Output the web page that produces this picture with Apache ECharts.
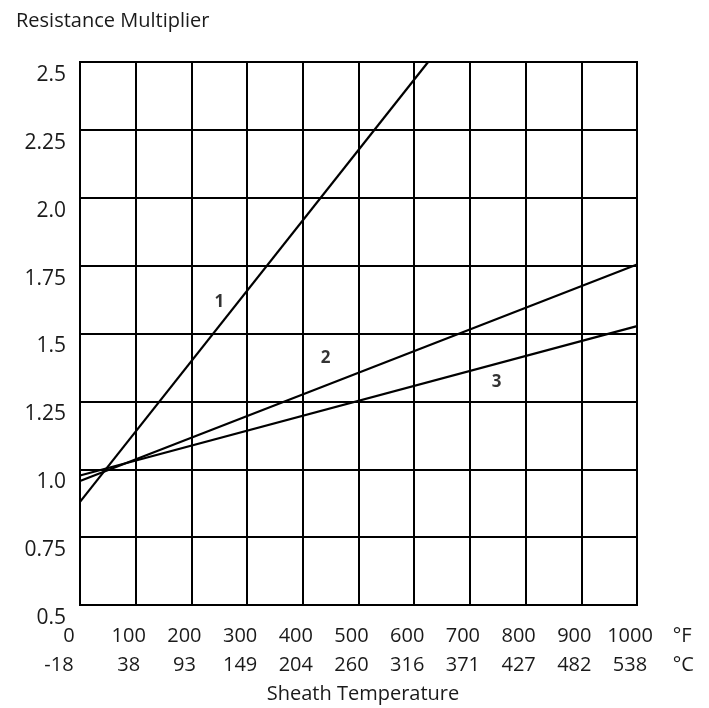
<!DOCTYPE html>
<html>
<head>
<meta charset="utf-8">
<script src="https://cdn.jsdelivr.net/npm/echarts@6/dist/echarts.min.js"></script>
<style>
html,body{margin:0;padding:0;background:#fff;}
#chart{width:709px;height:708px;}
</style>
</head>
<body>
<div id="chart"></div>
<script>
// Tick labels
const fTickLabels = ['0','100','200','300','400','500','600','700','800','900','1000'];
const cTickLabels = ['-18','38','93','149','204','260','316','371','427','482','538'];
const yTickLabels = ['0.5','0.75','1.0','1.25','1.5','1.75','2.0','2.25','2.5'];

// Series values: [°F, resistance multiplier]
const curve1 = [[0, 0.88], [625, 2.5]];
const curve2 = [[0, 0.957], [1000, 1.754]];
const curve3 = [[0, 0.977], [1000, 1.527]];

// Curve number labels: [°F, multiplier, text]
const curveLabels = [[250, 1.616, '1'], [441, 1.41, '2'], [748, 1.321, '3']];

const FONT = "'Open Sans', 'Liberation Sans', sans-serif";
const TXT = '#1a1a1a';

const chart = echarts.init(document.getElementById('chart'), null, {renderer: 'canvas'});

const lineSeries = (data) => ({
  type: 'line',
  data: data,
  symbol: 'none',
  silent: true,
  lineStyle: {color: '#000', width: 2.2},
  clip: true
});

const richBase = {fontFamily: FONT, fontSize: 20, color: TXT, lineHeight: 29};

const option = {
  backgroundColor: '#fff',
  animation: false,
  title: [
    {text: 'Resistance Multiplier', left: 11, top: 6,
     textStyle: {fontFamily: FONT, fontSize: 20, fontWeight: 'normal', color: TXT}},
    {text: 'Sheath Temperature', left: 358, top: 679, textAlign: 'center',
     textStyle: {fontFamily: FONT, fontSize: 20, fontWeight: 'normal', color: TXT}}
  ],
  grid: {left: 80, right: 72, top: 62, bottom: 103, show: true, borderColor: '#000', borderWidth: 2, containLabel: false},
  xAxis: [
    {
      type: 'value', min: 0, max: 1000, interval: 100, position: 'bottom',
      axisLine: {show: true, lineStyle: {color: '#000', width: 2}},
      axisTick: {show: false},
      splitLine: {show: true, lineStyle: {color: '#000', width: 2}},
      name: '°F\n°C',
      nameLocation: 'end',
      nameGap: 32,
      nameTextStyle: {fontFamily: FONT, fontSize: 20, color: TXT, align: 'left', verticalAlign: 'top', lineHeight: 29, padding: [17, 0, 0, 0]},
      axisLabel: {
        margin: 17,
        showMinLabel: false,
        showMaxLabel: true,
        formatter: function (v) {
          const i = Math.round(v / 100);
          return '{f|' + fTickLabels[i] + '}\n{c|' + cTickLabels[i] + '}';
        },
        rich: {
          f: Object.assign({}, richBase, {padding: [0, 14, 0, 0]}),
          c: Object.assign({}, richBase, {padding: [0, 14, 0, 0]})
        }
      }
    },
    {
      // carries only the first (0 °F / -18 °C) label, which sits further left
      type: 'value', min: 0, max: 1000, interval: 1000, position: 'bottom', offset: 0,
      axisLine: {show: false},
      axisTick: {show: false},
      splitLine: {show: false},
      axisLabel: {
        margin: 17,
        showMinLabel: true,
        showMaxLabel: false,
        formatter: function (v) {
          if (v !== 0) return '';
          return '{f0|' + fTickLabels[0] + '}\n{c0|' + cTickLabels[0] + '}';
        },
        rich: {
          f0: Object.assign({}, richBase, {padding: [0, 22, 0, 0]}),
          c0: Object.assign({}, richBase, {padding: [0, 42, 0, 0]})
        }
      }
    }
  ],
  yAxis: {
    type: 'value', min: 0.5, max: 2.5, interval: 0.25,
    axisLine: {show: true, lineStyle: {color: '#000', width: 2}},
    axisTick: {show: false},
    splitLine: {show: true, lineStyle: {color: '#000', width: 2}},
    axisLabel: {
      margin: 14,
      showMinLabel: true,
      showMaxLabel: true,
      fontFamily: FONT, fontSize: 21, color: TXT,
      verticalAlign: 'top',
      lineHeight: 26,
      formatter: function (v) {
        const i = Math.round((v - 0.5) / 0.25);
        return yTickLabels[i];
      }
    }
  },
  series: [
    lineSeries(curve1),
    lineSeries(curve2),
    lineSeries(curve3),
    {
      type: 'scatter',
      data: curveLabels.map(d => ({value: [d[0], d[1]], name: d[2]})),
      symbolSize: 0,
      silent: true,
      label: {
        show: true, position: 'inside',
        formatter: p => p.name,
        fontFamily: FONT, fontSize: 17, fontWeight: 'bold', color: '#000'
      }
    }
  ]
};

chart.setOption(option);
</script>
</body>
</html>
